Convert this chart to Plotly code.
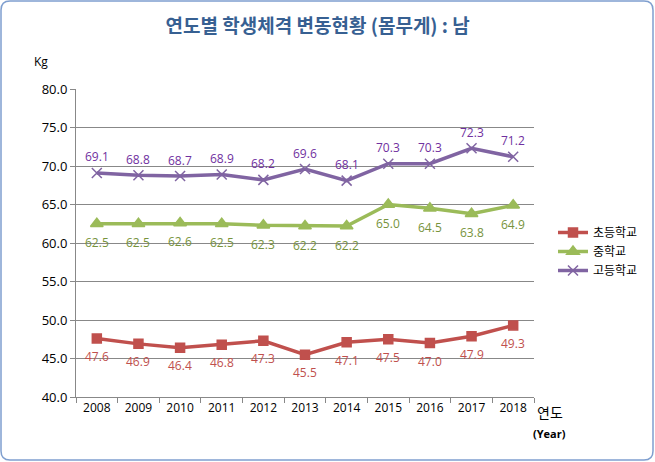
import plotly.graph_objects as go

years = ["2008", "2009", "2010", "2011", "2012", "2013", "2014", "2015", "2016", "2017", "2018"]
elementary = [47.6, 46.9, 46.4, 46.8, 47.3, 45.5, 47.1, 47.5, 47.0, 47.9, 49.3]
middle = [62.5, 62.5, 62.6, 62.5, 62.3, 62.2, 62.2, 65.0, 64.5, 63.8, 64.9]
high = [69.1, 68.8, 68.7, 68.9, 68.2, 69.6, 68.1, 70.3, 70.3, 72.3, 71.2]
series_names = ["초등학교", "중학교", "고등학교"]

W, H = 655, 462
L, R, T, B = 76, 121, 89, 65
pw, ph = W - L - R, H - T - B

def px(x):
    return (x - L) / pw

def py(y):
    return (H - B - y) / ph

font_num = "Open Sans, Noto Sans CJK KR, sans-serif"
font_kr = "Noto Sans CJK KR, sans-serif"

fig = go.Figure()
specs = [
    (elementary, series_names[0], "#C0504D", "#C0504D", "square", 9, -18),
    (middle, series_names[1], "#9BBB59", "#77933C", "triangle-up", 11, -19),
    (high, series_names[2], "#8064A2", "#7030A0", "x-thin-open", 10, 16),
]
annotations = []
for vals, name, col, tcol, sym, ms, shift in specs:
    fig.add_trace(go.Scatter(
        x=years, y=vals, name=name, mode="lines+markers",
        line=dict(color=col, width=3.5),
        marker=dict(symbol=sym, size=ms, color=col, line=dict(color=col, width=1.5)),
        cliponaxis=False,
    ))
    for i, yv in enumerate(vals):
        annotations.append(dict(x=i, y=yv, xref="x", yref="y", text=f"{yv:.1f}",
                                showarrow=False, yshift=shift, xanchor="center", yanchor="middle",
                                font=dict(color=tcol, size=12, family=font_num)))

# rounded border
x0, x1, y0, y1, r = 1, 653, 1, 460, 9
path = (f"M {px(x0+r)},{py(y0)} L {px(x1-r)},{py(y0)} Q {px(x1)},{py(y0)} {px(x1)},{py(y0+r)} "
        f"L {px(x1)},{py(y1-r)} Q {px(x1)},{py(y1)} {px(x1-r)},{py(y1)} "
        f"L {px(x0+r)},{py(y1)} Q {px(x0)},{py(y1)} {px(x0)},{py(y1-r)} "
        f"L {px(x0)},{py(y0+r)} Q {px(x0)},{py(y0)} {px(x0+r)},{py(y0)} Z")

annotations += [
    dict(text="Kg", x=px(41), y=py(61), xref="paper", yref="paper", showarrow=False,
         xanchor="center", yanchor="middle",
         font=dict(family=font_num, size=12, color="black")),
    dict(text="연도", x=px(550), y=py(412), xref="paper", yref="paper", showarrow=False,
         xanchor="center", yanchor="middle",
         font=dict(family=font_kr, size=14, color="black")),
    dict(text="<b>(Year)</b>", x=px(549), y=py(433), xref="paper", yref="paper", showarrow=False,
         xanchor="center", yanchor="middle",
         font=dict(family=font_num, size=11, color="black")),
]

fig.update_layout(
    width=W, height=H,
    margin=dict(l=L, r=R, t=T, b=B, autoexpand=False),
    paper_bgcolor="white", plot_bgcolor="white",
    title=dict(text="<b>연도별 학생체격 변동현황 (몸무게) : 남</b>", x=0.485, xanchor="center",
               y=1 - 26 / H, yanchor="middle",
               font=dict(family=font_kr, size=19, color="#376092")),
    xaxis=dict(type="category", range=[-0.5, 10.5], showgrid=False,
               showline=True, linecolor="#888888", linewidth=1,
               ticks="outside", tickson="boundaries", ticklen=5, tickcolor="#888888",
               tickfont=dict(family=font_num, size=12, color="black")),
    yaxis=dict(range=[40, 80], dtick=5, tickformat=".1f", showgrid=True,
               gridcolor="#888888", gridwidth=1, zeroline=False,
               showline=True, linecolor="#888888", linewidth=1,
               ticks="outside", ticklen=5, tickcolor="#888888",
               tickfont=dict(family=font_num, size=13, color="black")),
    legend=dict(x=px(553), y=py(218), xanchor="left", yanchor="top",
                font=dict(family=font_kr, size=12, color="black"),
                itemwidth=30, tracegroupgap=2, bgcolor="rgba(0,0,0,0)"),
    shapes=[dict(type="path", path=path, xref="paper", yref="paper",
                 line=dict(color="#7F9FCF", width=1.5), fillcolor="rgba(0,0,0,0)", layer="below")],
    annotations=annotations,
)

fig.write_html("out.html", config={"displayModeBar": False},
               post_script="document.body.style.margin='0';")
